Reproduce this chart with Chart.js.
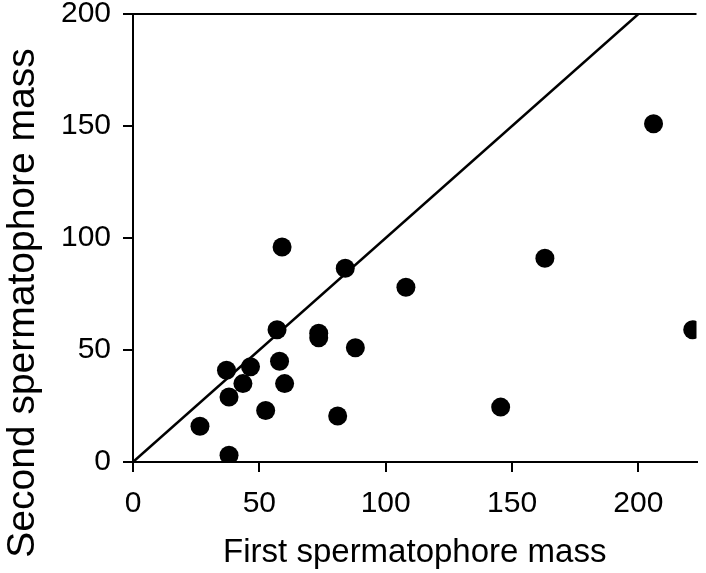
<!DOCTYPE html>
<html>
<head>
<meta charset="utf-8">
<script src="https://cdn.jsdelivr.net/npm/chart.js@4"></script>
<style>
  html, body { margin: 0; padding: 0; background: #fff; }
  canvas { display: block; }
</style>
</head>
<body>
<canvas id="graficoespermatoforos" width="706" height="573"></canvas>
<script>
// masas (primer y segundo espermatoforo)
const firstMass  = [59, 84, 57, 73.5, 73.5, 88, 37, 46.5, 58, 43.5, 60, 38, 52.5, 81, 26.5, 38, 108, 145.5, 206, 163, 221.5];
const secondMass = [96, 86.5, 59, 57.5, 55.5, 51, 41, 42.5, 45, 35, 35, 29, 23, 20.5, 16, 3, 78, 24.5, 151, 91, 59];
const xTicks = [0, 50, 100, 150, 200];
const yTicks = [0, 50, 100, 150, 200];
const equalLine = [0, 200];   // linea y = x

const fuente = "'Liberation Sans', Arial, Helvetica, sans-serif";

// linea superior del marco
const marcoSuperior = {
    id: 'marcoSuperior',
    afterDraw(chart) {
        const { ctx, chartArea } = chart;
        ctx.save();
        ctx.strokeStyle = '#000';
        ctx.lineWidth = 2;
        ctx.beginPath();
        ctx.moveTo(chartArea.left - 1, chartArea.top);
        ctx.lineTo(chartArea.right, chartArea.top);
        ctx.stroke();
        ctx.restore();
    }
};

const ejeComun = {
    type: 'linear',
    border: { display: true, color: '#000', width: 2 },
    grid: { display: true, drawOnChartArea: false, drawTicks: true, tickLength: 10, color: '#000', lineWidth: 2 },
};

const ctx = document.getElementById('graficoespermatoforos').getContext('2d');
new Chart(ctx, {
    type: 'scatter',
    data: {
        datasets: [{
            type: 'line',
            label: 'y = x',
            data: equalLine.map(v => ({ x: v, y: v })),
            borderColor: '#000',
            borderWidth: 2.5,
            pointRadius: 0,
            fill: false
        },
        {
            label: 'Masa',
            data: firstMass.map((v, i) => ({ x: v, y: secondMass[i] })),
            backgroundColor: '#000',
            borderColor: '#000',
            borderWidth: 0,
            pointRadius: 9.5
        }]
    },
    options: {
        responsive: false,
        animation: false,
        events: [],
        layout: { padding: { top: 14, right: 0, bottom: 0, left: 0 } },
        plugins: {
            legend: { display: false },
            tooltip: { enabled: false }
        },
        scales: {
            x: {
                ...ejeComun,
                min: 0,
                max: 223,
                afterBuildTicks: s => { s.ticks = xTicks.map(v => ({ value: v })); },
                afterFit: s => { s.height = 111; s.paddingLeft = 0; s.paddingRight = 0; },
                ticks: { color: '#000', padding: 14, maxRotation: 0, font: { family: fuente, size: 30 } },
                title: {
                    display: true,
                    text: 'First spermatophore mass',
                    color: '#000',
                    padding: 0,
                    font: { family: fuente, size: 33 }
                }
            },
            y: {
                ...ejeComun,
                min: 0,
                max: 200,
                afterBuildTicks: s => { s.ticks = yTicks.map(v => ({ value: v })); },
                afterFit: s => { s.width = 133; s.paddingTop = 0; s.paddingBottom = 0; },
                ticks: { color: '#000', padding: 12, font: { family: fuente, size: 30 } },
                title: {
                    display: true,
                    text: 'Second spermatophore mass' + ' '.repeat(12),
                    color: '#000',
                    padding: 0,
                    font: { family: fuente, size: 39 }
                }
            }
        }
    },
    plugins: [marcoSuperior]
});
</script>
</body>
</html>
